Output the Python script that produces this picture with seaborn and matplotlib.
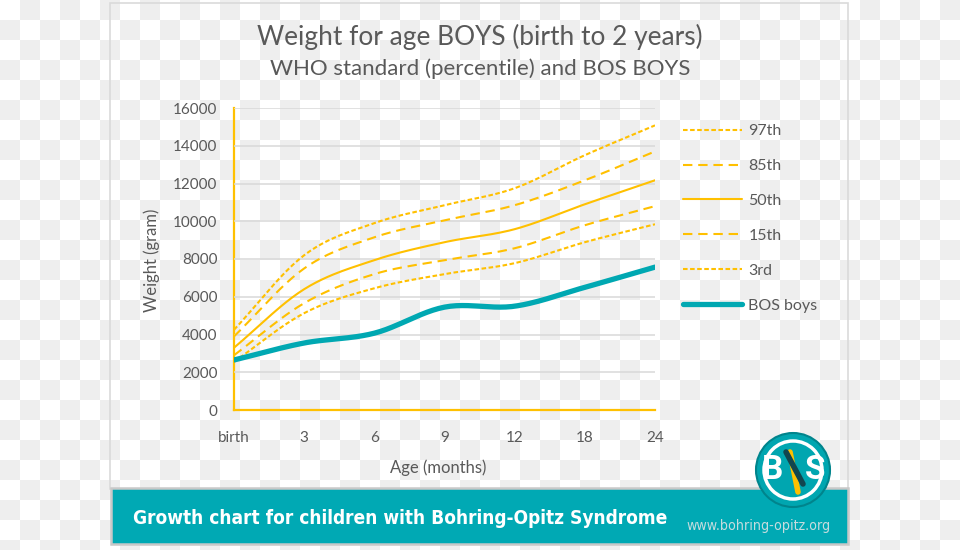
import numpy as np
import pandas as pd
import seaborn as sns
import matplotlib.pyplot as plt
from matplotlib.patches import Rectangle, Circle

# values (grams)
ages = ['birth', '3', '6', '9', '12', '18', '24']
p97 = [4250, 8200, 9900, 10850, 11750, 13500, 15080]
p85 = [3900, 7500, 9150, 10050, 10850, 12170, 13700]
p50 = [3300, 6400, 7940, 8890, 9580, 10900, 12170]
p15 = [2900, 5660, 7200, 7940, 8570, 9790, 10800]
p3 = [2550, 5130, 6450, 7200, 7780, 8890, 9840]
bos = [2650, 3550, 4070, 5450, 5500, 6500, 7570]
yticks = [0, 2000, 4000, 6000, 8000, 10000, 12000, 14000, 16000]

YEL = '#FFC000'
TEAL = '#00A8B2'
GREY = '#595959'
FONT = ['Lato', 'DejaVu Sans']


def smooth(ys, n=24):
    # catmull-rom through the points, like excel's smoothed line
    y = np.asarray(ys, float)
    p = np.concatenate([[2 * y[0] - y[1]], y, [2 * y[-1] - y[-2]]])
    xs, out = [], []
    for i in range(len(y) - 1):
        t = np.linspace(0, 1, n, endpoint=False)
        p0, p1, p2, p3_ = p[i], p[i + 1], p[i + 2], p[i + 3]
        v = 0.5 * (2 * p1 + (-p0 + p2) * t + (2 * p0 - 5 * p1 + 4 * p2 - p3_) * t ** 2
                   + (-p0 + 3 * p1 - 3 * p2 + p3_) * t ** 3)
        xs.extend(i + t)
        out.extend(v)
    xs.append(len(y) - 1)
    out.append(y[-1])
    return pd.DataFrame({'x': xs, 'y': out})


sns.set_theme(style='white')
plt.rcParams['font.family'] = FONT

fig = plt.figure(figsize=(9.6, 5.5), dpi=100)

# background (transparency checkerboard of the source image) + decorations
bg = fig.add_axes([0, 0, 1, 1], zorder=-5)
yy, xx = np.mgrid[0:550, 0:960]
chk = ((yy // 20 + xx // 20) % 2).astype(float)
img = np.where(chk[..., None] > 0, 238 / 255, 1.0) * np.ones((1, 1, 3))
bg.imshow(img, extent=(0, 960, 550, 0), interpolation='nearest', aspect='auto')
bg.set_xlim(0, 960)
bg.set_ylim(550, 0)
bg.axis('off')
bg.add_patch(Rectangle((110, 3), 738, 486, fill=False, ec='#DADADA', lw=1.2))
bg.add_patch(Rectangle((111, 488), 737, 56, fc='#00A9B4', ec='#C8C8C8', lw=1.8))
bg.add_patch(Circle((793, 470), 37, fc='#00A6B0', ec='#00848C', lw=1.5, zorder=5))
bg.add_patch(Circle((793, 470), 29, fill=False, ec='white', lw=2.5, zorder=6))
bg.text(772, 470, 'B', color='white', fontsize=24, fontweight='bold', ha='center', va='center',
        family=['Roboto', 'DejaVu Sans'], zorder=7)
bg.text(815, 470, 'S', color='white', fontsize=24, fontweight='bold', ha='center', va='center',
        family=['Roboto', 'DejaVu Sans'], zorder=7)
bg.plot([790, 798], [452, 492], color=YEL, lw=4, solid_capstyle='round', zorder=7)
bg.plot([786, 803], [452, 484], color='#12464F', lw=4, solid_capstyle='round', zorder=8)

banner = bg.text(133, 518, 'Growth chart for children with Bohring-Opitz Syndrome', color='white',
                 fontsize=17, fontweight='bold', fontstretch='condensed', ha='left', va='center',
                 family='DejaVu Sans')
url = bg.text(686, 526, 'www.bohring-opitz.org', color='#C5DCDE', fontsize=10, ha='left', va='center',
              fontstretch='condensed', family='DejaVu Sans')
title = fig.text(0.5, 1 - 37 / 550, 'Weight for age BOYS (birth to 2 years)', color=GREY,
                 fontsize=18, ha='center', va='center')
sub = fig.text(0.5, 1 - 69 / 550, 'WHO standard (percentile) and BOS BOYS', color=GREY,
               fontsize=14, ha='center', va='center')

ax = fig.add_axes([234 / 960, 1 - 410 / 550, 421 / 960, 302 / 550])
ax.set_facecolor('none')

series = [
    ('97th', p97, dict(color=YEL, linewidth=1.5, linestyle=(0, (2.2, 1.2)))),
    ('85th', p85, dict(color=YEL, linewidth=1.5, linestyle=(0, (4.5, 2.8)))),
    ('50th', p50, dict(color=YEL, linewidth=1.5, linestyle='-')),
    ('15th', p15, dict(color=YEL, linewidth=1.5, linestyle=(0, (4.5, 2.8)))),
    ('3rd', p3, dict(color=YEL, linewidth=1.5, linestyle=(0, (2.2, 1.2)))),
    ('BOS boys', bos, dict(color=TEAL, linewidth=3.8, linestyle='-')),
]
for name, vals, kw in series:
    d = smooth(vals)
    sns.lineplot(data=d, x='x', y='y', ax=ax, label=name, sort=False, **kw)

ax.set_xlim(0, len(ages) - 1)
ax.set_ylim(0, 16000)
ax.set_xticks(range(len(ages)))
ax.set_xticklabels(ages)
ax.set_yticks(yticks)
ax.set_yticklabels([str(v) for v in yticks])
ax.yaxis.grid(True, color='#D9D9D9', lw=1.1)
ax.xaxis.grid(False)
ax.set_axisbelow(True)
for s in ['top', 'right']:
    ax.spines[s].set_visible(False)
for s in ['left', 'bottom']:
    ax.spines[s].set_color(YEL)
    ax.spines[s].set_linewidth(1.6)
ax.spines['left'].set_zorder(0.5)
ax.tick_params(axis='both', length=0, labelsize=11, labelcolor=GREY)
ax.tick_params(axis='x', pad=15)
ax.tick_params(axis='y', pad=12)
ax.set_xlabel('Age (months)', fontsize=12, color=GREY)
ax.set_ylabel('Weight (gram)', fontsize=12, color=GREY)
ax.xaxis.set_label_coords(0.485, -0.165)
ax.yaxis.set_label_coords(-0.175, 0.497)

leg = ax.legend(loc='upper left', bbox_to_anchor=(683 / 960, 1 - 124 / 550), bbox_transform=fig.transFigure,
                frameon=False, fontsize=11.5, handlelength=3.7, handletextpad=0.4, labelspacing=1.3,
                borderpad=0, borderaxespad=0)
for t in leg.get_texts():
    t.set_color(GREY)

# fit some texts to the widths measured on the reference
r = fig.canvas.get_renderer()
for t, w in [(title, 444), (sub, 420), (banner, 535), (url, 144)]:
    bb = t.get_window_extent(r)
    t.set_fontsize(t.get_fontsize() * w / bb.width)

fig.savefig('out.png', dpi=100)
